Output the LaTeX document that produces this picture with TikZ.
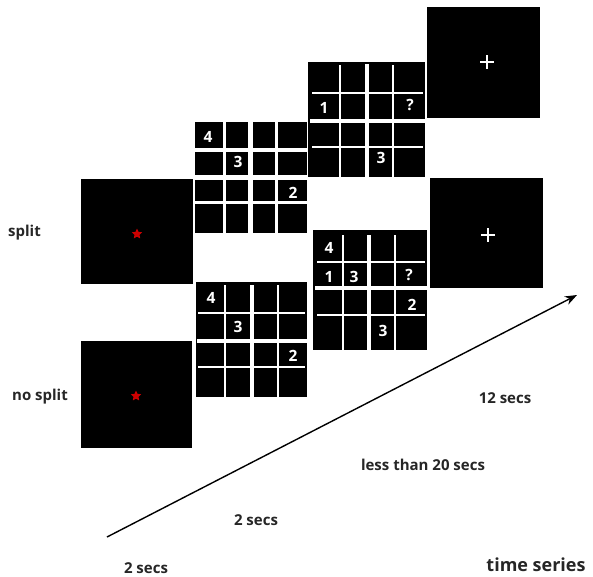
\documentclass[tikz,border=0pt]{standalone}
\usepackage{fontspec}
\setmainfont{Open Sans}
\usetikzlibrary{shapes.geometric,arrows.meta}
\begin{document}
\begin{tikzpicture}[x=1pt,y=-1pt,
  panel/.style={fill=black,draw=none,inner sep=0pt,outer sep=0pt},
  num/.style={text=white,font=\bfseries\fontsize{15.5}{16}\selectfont,inner sep=0pt},
  lbl/.style={text=black!85,font=\bfseries\fontsize{15}{16}\selectfont,inner sep=0pt},
  wl/.style={white,line width=2.4pt},
  wlt/.style={white,line width=3.8pt},
  fix/.style={star,star points=5,star point ratio=2.1,fill=red!80!black,draw=none,minimum size=11pt,inner sep=0pt},
  crossline/.style={white,line width=1.8pt},
]
\useasboundingbox (0,0) rectangle (593,576);

% fixation panels
\node[panel,minimum width=112pt,minimum height=105pt] (s1) at (137,231) {};
\node[panel,minimum width=111pt,minimum height=107pt] (s2) at (136,394) {};
\node[fix] (st1) at (137,234) {};
\node[fix] (st2) at (136,396) {};

% cross panels
\node[panel,minimum width=113pt,minimum height=111pt] (c1) at (483.5,62.5) {};
\node[panel,minimum width=113pt,minimum height=110pt] (c2) at (486.5,233) {};
\draw[crossline] (480,62) -- (494,62) (487,55) -- (487,69);
\draw[crossline] (481,235) -- (495,235) (488,228) -- (488,242);

% split grid (separated cells)
\foreach \xa/\xb in {195/223,226/248,253/275,278/307}
  \foreach \ya/\yb in {122/148,152/175,180/201,204/233}
    \fill[black] (\xa,\ya) rectangle (\xb,\yb);
\node[num] (g1a) at (208,137) {4};
\node[num] (g1b) at (238,162) {3};
\node[num] (g1c) at (293,193) {2};

% split grid, response
\fill[black] (308,62) rectangle (425,177);
\draw[wl] (340,65) -- (340,177) (393,65) -- (393,177);
\draw[wlt] (367,64) -- (367,177);
\draw[wl] (312,93) -- (423,93) (312,147) -- (423,147);
\draw[wlt] (310,121) -- (425,121);
\node[num] (g2a) at (324,108) {1};
\node[num] (g2b) at (410,105) {?};
\node[num] (g2c) at (381,158) {3};

% no split grid
\fill[black] (196,282) rectangle (307,397);
\draw[wl] (225,285) -- (225,397) (278,285) -- (278,397);
\draw[wlt] (252,285) -- (252,397);
\draw[wl] (198,313) -- (305,313) (198,367) -- (305,367);
\draw[wlt] (197,341) -- (307,341);
\node[num] (g3a) at (211,298) {4};
\node[num] (g3b) at (238,327) {3};
\node[num] (g3c) at (293,356) {2};

% no split grid, response
\fill[black] (313,230) rectangle (427,350);
\draw[wl] (343,235) -- (343,350) (395,235) -- (395,350);
\draw[wlt] (369,235) -- (369,350);
\draw[wl] (317,262) -- (425,262) (317,315) -- (425,315);
\draw[wlt] (315,288) -- (427,288);
\node[num] (g4a) at (329,248) {4};
\node[num] (g4b) at (329,277) {1};
\node[num] (g4c) at (354,277) {3};
\node[num] (g4d) at (409,275) {?};
\node[num] (g4e) at (412,305) {2};
\node[num] (g4f) at (383,331) {3};

% time arrow
\coordinate (t0) at (107,537);
\coordinate (t1) at (577,295);
\draw[line width=1.4pt,-{Stealth[length=12pt,width=9pt]}] (t0) -- (t1);

% labels
\node[lbl] (l1) at (24.5,233) {split};
\node[lbl] (l2) at (40,397) {no split};
\node[lbl] (l3) at (505,398) {12 secs};
\node[lbl] (l4) at (423,465) {less than 20 secs};
\node[lbl] (l5) at (256,520) {2 secs};
\node[lbl] (l6) at (146,568) {2 secs};
\node[lbl,font=\bfseries\fontsize{18}{18}\selectfont] (l7) at (536,565) {time series};
\end{tikzpicture}
\end{document}
